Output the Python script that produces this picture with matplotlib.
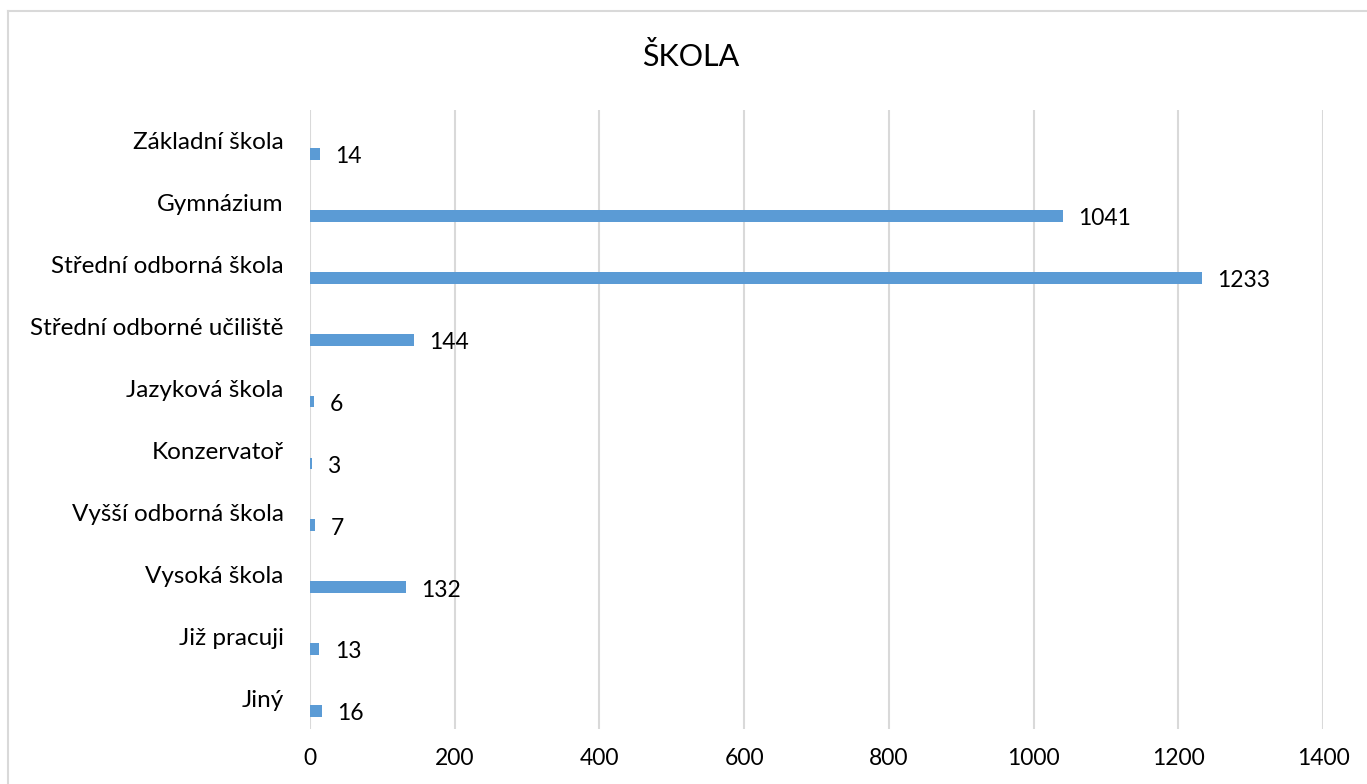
import matplotlib.pyplot as plt
from matplotlib.lines import Line2D

plt.rcParams['font.family'] = ['Lato', 'DejaVu Sans']

categories = ['Základní škola', 'Gymnázium', 'Střední odborná škola',
              'Střední odborné učiliště', 'Jazyková škola', 'Konzervatoř',
              'Vyšší odborná škola', 'Vysoká škola', 'Již pracuji', 'Jiný']
values = [14, 1041, 1233, 144, 6, 3, 7, 132, 13, 16]
x_ticks = [0, 200, 400, 600, 800, 1000, 1200, 1400]

W, H = 1367, 784
fig = plt.figure(figsize=(W / 100, H / 100), dpi=100)
ax = fig.add_axes([310 / W, 1 - 729 / H, (1323 - 310) / W, (729 - 110) / H])

pos = list(range(len(categories)))
# bars sit in the lower part of each category band (Excel clustered look)
bar_pos = [p + 0.21 for p in pos]
ax.barh(bar_pos, values, height=0.19, color='#5b9bd5', zorder=3)

for y, v in zip(bar_pos, values):
    ax.annotate(str(v), (v, y), xytext=(11, -2), textcoords='offset points',
                va='center', ha='left', fontsize=16.5, color='#000000')

ax.set_xlim(0, 1400)
ax.set_ylim(len(categories) - 0.5, -0.5)
ax.set_xticks(x_ticks)
ax.set_yticks(pos)
ax.set_yticklabels(categories, fontsize=17.5)
ax.tick_params(axis='both', length=0, colors='#000000')
ax.tick_params(axis='x', pad=14, labelsize=16.5)
ax.tick_params(axis='y', pad=19)
ax.grid(axis='x', color='#d9d9d9', linewidth=1.5, zorder=0)
for s in ax.spines.values():
    s.set_visible(False)

fig.text(691 / W, 1 - 57 / H, 'ŠKOLA', ha='center', va='center', fontsize=22)

# chart area border (only top and left edges are visible)
fig.add_artist(Line2D([8 / W, 1], [1 - 11 / H, 1 - 11 / H], color='#d9d9d9', lw=1.5))
fig.add_artist(Line2D([8 / W, 8 / W], [0, 1 - 11 / H], color='#d9d9d9', lw=1.5))

fig.savefig('out.png', dpi=100)
